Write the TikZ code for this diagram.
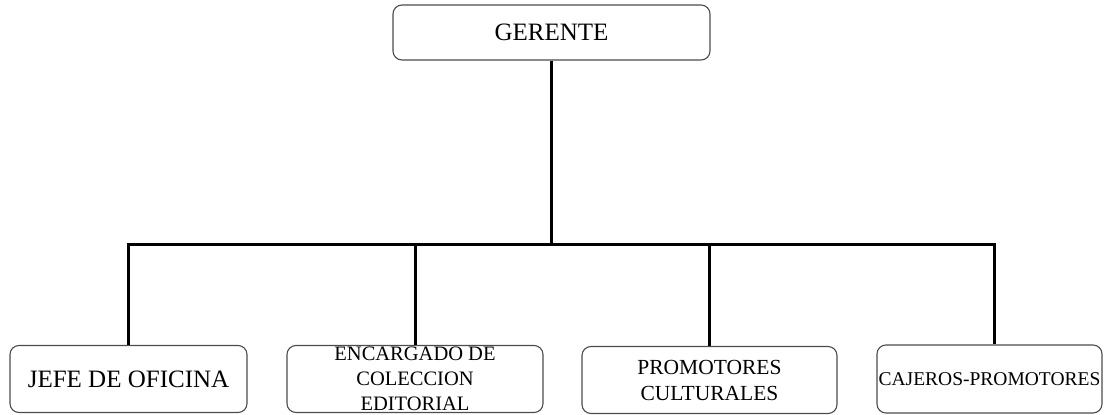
\documentclass[tikz,border=0pt]{standalone}
\usepackage{fontspec}
\setmainfont{Liberation Serif}
\usetikzlibrary{positioning}

\tikzset{
  puesto/.style={draw=black!70, line width=1.1pt, rounded corners=9pt, align=center, inner sep=0pt},
  enlace/.style={draw=black, line width=3pt}
}

\begin{document}
\begin{tikzpicture}[x=1pt,y=-1pt]
            \useasboundingbox (0,0) rectangle (1104,415);
            \node[puesto, minimum width=317pt, minimum height=55pt, font=\fontsize{25}{27}\selectfont] (gerente) at (551.5,32.5) {GERENTE};
            \node[puesto, minimum width=237pt, minimum height=67pt, font=\fontsize{25}{27}\selectfont] (jefe) at (128.5,379) {JEFE DE OFICINA};
            \node[puesto, minimum width=256pt, minimum height=67pt, font=\fontsize{20.5}{25}\selectfont] (encargado) at (415,379) {ENCARGADO DE\\COLECCION\\EDITORIAL};
            \node[puesto, minimum width=255pt, minimum height=67pt, font=\fontsize{21.5}{26}\selectfont] (promotores) at (709.5,380) {PROMOTORES\\CULTURALES};
            \node[puesto, minimum width=225pt, minimum height=68pt, font=\fontsize{19.5}{22}\selectfont] (cajeros) at (989.5,379) {CAJEROS-PROMOTORES};
            \coordinate (barra) at (551.5,244);
            \draw[enlace] (gerente.south) -- (barra);
            \draw[enlace] (jefe.north) |- (barra);
            \draw[enlace] (encargado.north) |- (barra);
            \draw[enlace] (promotores.north) |- (barra);
            \draw[enlace] ([xshift=4.5pt]cajeros.north) |- (barra);
        \end{tikzpicture}
\end{document}
